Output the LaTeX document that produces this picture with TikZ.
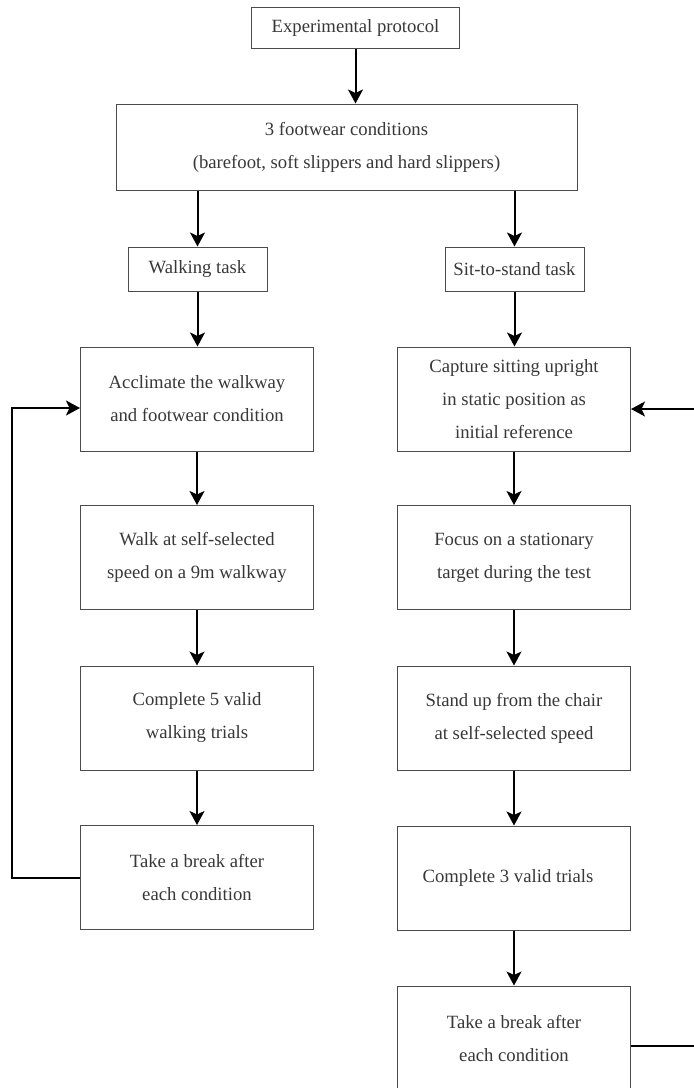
\documentclass[tikz,border=0pt]{standalone}
\usepackage{fontspec}
\setmainfont{Liberation Serif}
\usetikzlibrary{arrows.meta}
\begin{document}
\begin{tikzpicture}[x=1pt,y=-1pt,
  box/.style={draw=black!70, line width=1pt, align=center, text=black!78,
    font=\fontsize{18.7}{33}\selectfont, inner sep=0pt},
  bigbox/.style={box, minimum width=233pt, minimum height=104pt},
  arr/.style={draw=black, line width=2pt, -{Stealth[length=14pt,width=15pt,inset=3.5pt]}}]
\clip (0,0) rectangle (694,1088);
\fill[white] (0,0) rectangle (694,1088);
% top
\node[box, minimum width=208pt, minimum height=41pt] (exp) at (355.5,27.5) {Experimental protocol};
\node[box, minimum width=461pt, minimum height=86pt] (foot) at (346.5,147) {3 footwear conditions\\(barefoot, soft slippers and hard slippers)};
\node[box, minimum width=139pt, minimum height=44pt] (wt) at (197.5,269) {Walking task};
\node[box, minimum width=139pt, minimum height=44pt] (st) at (514.5,269) {Sit-to-stand task};
% left column
\node[bigbox] (l1) at (197,399) {Acclimate the walkway\\and footwear condition};
\node[bigbox] (l2) at (197,557.5) {Walk at self-selected\\speed on a 9m walkway};
\node[bigbox] (l3) at (197,718) {Complete 5 valid\\walking trials};
\node[bigbox] (l4) at (197,877.5) {Take a break after\\each condition};
% right column
\node[bigbox] (r1) at (514,399) {Capture sitting upright\\in static position as\\initial reference};
\node[bigbox] (r2) at (514,557.5) {Focus on a stationary\\target during the test};
\node[bigbox] (r3) at (514,718) {Stand up from the chair\\at self-selected speed};
\node[bigbox] (r4) at (514,878) {\raisebox{-8pt}{Complete 3 valid trials}\hspace*{12pt}};
\node[bigbox] (r5) at (514,1038) {Take a break after\\each condition};
% arrows
\draw[arr] (exp.south) -- (exp.south |- foot.north);
\draw[arr] (foot.south -| wt.north) -- (wt.north);
\draw[arr] (foot.south -| st.north) -- (st.north);
\draw[arr] (wt.south) -- (wt.south |- l1.north);
\draw[arr] (st.south) -- (st.south |- r1.north);
\draw[arr] (l1.south) -- (l2.north);
\draw[arr] (l2.south) -- (l3.north);
\draw[arr] (l3.south) -- (l4.north);
\draw[arr] (r1.south) -- (r2.north);
\draw[arr] (r2.south) -- (r3.north);
\draw[arr] (r3.south) -- (r4.north);
\draw[arr] (r4.south) -- (r5.north);
% feedback loops
\coordinate (la) at (12,878);
\coordinate (lb) at (12,408);
\draw[arr] (l4.west |- la) -- (la) -- (lb) -- (l1.west |- lb);
\coordinate (ra) at (700,1046);
\coordinate (rb) at (700,409);
\draw[arr] (r5.east |- ra) -- (ra) -- (rb) -- (r1.east |- rb);
\end{tikzpicture}
\end{document}
